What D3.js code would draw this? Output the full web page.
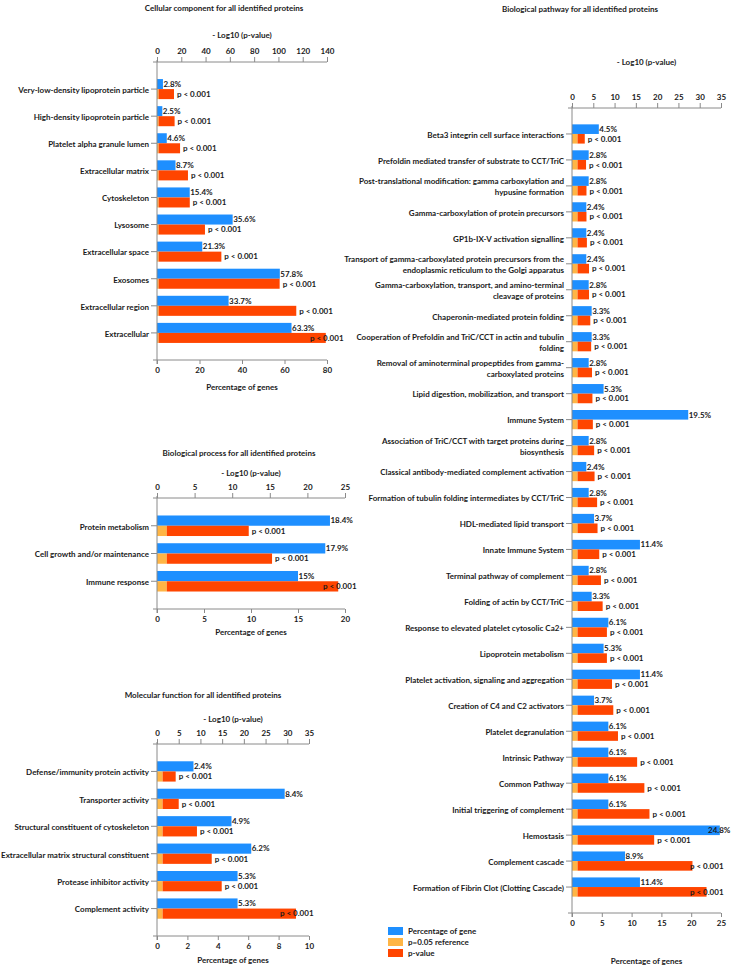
<!DOCTYPE html>
<html><head><meta charset="utf-8">
<script src="https://cdn.jsdelivr.net/npm/d3@7"></script>
<style>
body{margin:0;background:#fff;}
svg text{font-family:Lato,"Open Sans",sans-serif;font-weight:700;fill:#1a1a1a;}
</style></head><body>
<svg id="c" width="731" height="969"></svg>
<script>
// ---------- DATA ----------
const pRefLog = 1.3; // -log10(0.05)

const ccCategories = ["Very-low-density lipoprotein particle","High-density lipoprotein particle","Platelet alpha granule lumen","Extracellular matrix","Cytoskeleton","Lysosome","Extracellular space","Exosomes","Extracellular region","Extracellular"];
const ccPercent = [2.8,2.5,4.6,8.7,15.4,35.6,21.3,57.8,33.7,63.3];
const ccLogP = [14,14.5,19,25.5,27,39.5,53,101,114.7,139];
const ccTopTicks = [0,20,40,60,80,100,120,140];
const ccBottomTicks = [0,20,40,60,80];

const bpCategories = ["Protein metabolism","Cell growth and/or maintenance","Immune response"];
const bpPercent = [18.4,17.9,15];
const bpLogP = [12.2,15.3,24.1];
const bpTopTicks = [0,5,10,15,20,25];
const bpBottomTicks = [0,5,10,15,20];

const mfCategories = ["Defense/immunity protein activity","Transporter activity","Structural constituent of cytoskeleton","Extracellular matrix structural constituent","Protease inhibitor activity","Complement activity"];
const mfPercent = [2.4,8.4,4.9,6.2,5.3,5.3];
const mfLogP = [4.3,5.0,9.2,12.6,14.9,32.0];
const mfTopTicks = [0,5,10,15,20,25,30,35];
const mfBottomTicks = [0,2,4,6,8,10];

const pathCategories = [
"Beta3 integrin cell surface interactions",
"Prefoldin mediated transfer of substrate to CCT/TriC",
"Post-translational modification: gamma carboxylation and\nhypusine formation",
"Gamma-carboxylation of protein precursors",
"GP1b-IX-V activation signalling",
"Transport of gamma-carboxylated protein precursors from the\nendoplasmic reticulum to the Golgi apparatus",
"Gamma-carboxylation, transport, and amino-terminal\ncleavage of proteins",
"Chaperonin-mediated protein folding",
"Cooperation of Prefoldin and TriC/CCT in actin and tubulin\nfolding",
"Removal of aminoterminal propeptides from gamma-\ncarboxylated proteins",
"Lipid digestion, mobilization, and transport",
"Immune System",
"Association of TriC/CCT with target proteins during\nbiosynthesis",
"Classical antibody-mediated complement activation",
"Formation of tubulin folding intermediates by CCT/TriC",
"HDL-mediated lipid transport",
"Innate Immune System",
"Terminal pathway of complement",
"Folding of actin by CCT/TriC",
"Response to elevated platelet cytosolic Ca2+",
"Lipoprotein metabolism",
"Platelet activation, signaling and aggregation",
"Creation of C4 and C2 activators",
"Platelet degranulation",
"Intrinsic Pathway",
"Common Pathway",
"Initial triggering of complement",
"Hemostasis",
"Complement cascade",
"Formation of Fibrin Clot (Clotting Cascade)"];
const pathPercent = [4.5,2.8,2.8,2.4,2.4,2.4,2.8,3.3,3.3,2.8,5.3,19.5,2.8,2.4,2.8,3.7,11.4,2.8,3.3,6.1,5.3,11.4,3.7,6.1,6.1,6.1,6.1,24.8,8.9,11.4];
const pathLogP = [3.0,3.3,3.4,3.4,3.5,4.0,4.0,4.3,4.5,4.7,4.8,4.9,5.2,5.3,5.9,6.0,6.4,6.8,7.2,8.2,8.2,9.4,9.7,10.8,15.3,17.0,18.2,19.3,28.3,31.6];
const pathTopTicks = [0,5,10,15,20,25,30,35];
const pathBottomTicks = [0,5,10,15,20,25];

const legendLabels = ["Percentage of gene","p=0.05 reference","p-value"];
const pLabel = "p < 0.001";
const topAxisTitle = "- Log10 (p-value)";
const bottomAxisTitle = "Percentage of genes";

// ---------- STYLE ----------
const BLUE = "#1e8fff", ORANGE = "#ffb545", RED = "#ff4500", AXIS = "#8a8a8a";
const FS = 8;
const svg = d3.select("#c");

function panel(o) {
  const g = svg.append("g");
  const band = d3.scaleBand().domain(o.categories).range([o.top, o.bottom]).paddingOuter(0.5).paddingInner(0);
  const xTop = d3.scaleLinear().domain([0, d3.max(o.topTicks)]).range([o.x0, o.x1]);
  const xBot = d3.scaleLinear().domain([0, d3.max(o.bottomTicks)]).range([o.x0, o.x1]);
  const h = band.step() * 0.37;
  const data = o.categories.map((c, i) => ({c, pct: o.percent[i], lp: o.logp[i]}));

  // titles
  g.append("text").attr("x", o.titleX).attr("y", o.titleY).attr("text-anchor", "middle").attr("font-size", FS).attr("dy", "0.35em").text(o.title);
  g.append("text").attr("x", (o.x0 + o.x1) / 2).attr("y", o.topTitleY).attr("text-anchor", "middle").attr("font-size", FS).attr("dy", "0.35em").text(topAxisTitle);
  g.append("text").attr("x", (o.x0 + o.x1) / 2).attr("y", o.botTitleY).attr("text-anchor", "middle").attr("font-size", FS).attr("dy", "0.35em").text(bottomAxisTitle);

  // bars
  const bars = g.append("g");
  bars.selectAll(".b").data(data).join("rect")
    .attr("x", o.x0).attr("y", d => band(d.c) + band.bandwidth() / 2 - h)
    .attr("width", d => xBot(d.pct) - o.x0).attr("height", h).attr("fill", BLUE);
  bars.selectAll(".o").data(data).join("rect").attr("class", "o")
    .attr("x", o.x0).attr("y", d => band(d.c) + band.bandwidth() / 2)
    .attr("width", xTop(pRefLog) - o.x0).attr("height", h).attr("fill", ORANGE);
  bars.selectAll(".r").data(data).join("rect").attr("class", "r")
    .attr("x", xTop(pRefLog)).attr("y", d => band(d.c) + band.bandwidth() / 2)
    .attr("width", d => xTop(d.lp) - xTop(pRefLog)).attr("height", h).attr("fill", RED);

  // data labels
  g.selectAll(".lb").data(data).join("text")
    .attr("x", d => Math.min(xBot(d.pct) + 0.5, o.blueClamp))
    .attr("y", d => band(d.c) + band.bandwidth() / 2 - h / 2)
    .attr("dy", "0.35em").attr("font-size", FS).text(d => d.pct + "%");
  g.selectAll(".lr").data(data).join("text")
    .attr("x", d => Math.min(xTop(d.lp) + 3, o.redClamp))
    .attr("y", d => band(d.c) + band.bandwidth() / 2 + h / 2)
    .attr("dy", "0.35em").attr("font-size", FS).text(pLabel);

  // axes
  const ax = g.append("g").attr("stroke", AXIS).attr("stroke-width", 1);
  ax.append("line").attr("x1", o.x0 - 4).attr("x2", o.x1).attr("y1", o.top).attr("y2", o.top);
  ax.append("line").attr("x1", o.x0 - 4).attr("x2", o.x1).attr("y1", o.bottom).attr("y2", o.bottom);
  ax.append("line").attr("x1", o.x0).attr("x2", o.x0).attr("y1", o.top - 2).attr("y2", o.bottom + 4);

  const top = g.append("g").attr("transform", `translate(0,${o.top})`)
    .call(d3.axisTop(xTop).tickValues(o.topTicks).tickSize(5).tickSizeOuter(0).tickPadding(3));
  const bot = g.append("g").attr("transform", `translate(0,${o.bottom})`)
    .call(d3.axisBottom(xBot).tickValues(o.bottomTicks).tickSize(4).tickSizeOuter(0).tickPadding(3));
  const left = g.append("g").attr("transform", `translate(${o.x0},0)`)
    .call(d3.axisLeft(band).tickSize(6).tickSizeOuter(0).tickFormat(""));
  [top, bot, left].forEach(a => {
    a.select(".domain").remove();
    a.selectAll("line").attr("stroke", AXIS);
    a.selectAll("text").attr("font-size", FS).attr("font-family", null).attr("fill", "#1a1a1a");
  });

  // category labels (with explicit wraps)
  const lab = g.selectAll(".cl").data(data).join("text")
    .attr("text-anchor", "end").attr("font-size", FS)
    .attr("y", d => band(d.c) + band.bandwidth() / 2 + 1);
  lab.each(function(d) {
    const lines = d.c.split("\n");
    const t = d3.select(this);
    lines.forEach((ln, k) => {
      t.append("tspan").attr("x", o.x0 - 8)
        .attr("dy", k === 0 ? ((-(lines.length - 1) * 5.5) / FS + 0.35) + "em" : (11 / FS) + "em")
        .text(ln);
    });
  });
}

panel({categories: ccCategories, percent: ccPercent, logp: ccLogP, topTicks: ccTopTicks, bottomTicks: ccBottomTicks,
  x0: 157, x1: 327, top: 62, bottom: 360, title: "Cellular component for all identified proteins",
  titleX: 224, titleY: 8, topTitleY: 35, botTitleY: 387, blueClamp: 330, redClamp: 310});

panel({categories: bpCategories, percent: bpPercent, logp: bpLogP, topTicks: bpTopTicks, bottomTicks: bpBottomTicks,
  x0: 157, x1: 345, top: 498, bottom: 609, title: "Biological process for all identified proteins",
  titleX: 239, titleY: 453, topTitleY: 473, botTitleY: 632, blueClamp: 345, redClamp: 323});

panel({categories: mfCategories, percent: mfPercent, logp: mfLogP, topTicks: mfTopTicks, bottomTicks: mfBottomTicks,
  x0: 157, x1: 309, top: 744, bottom: 936, title: "Molecular function for all identified proteins",
  titleX: 203, titleY: 695, topTitleY: 719, botTitleY: 960, blueClamp: 310, redClamp: 280});

panel({categories: pathCategories, percent: pathPercent, logp: pathLogP, topTicks: pathTopTicks, bottomTicks: pathBottomTicks,
  x0: 572, x1: 721, top: 108, bottom: 913, title: "Biological pathway for all identified proteins",
  titleX: 580, titleY: 9, topTitleY: 62, botTitleY: 961, blueClamp: 708, redClamp: 690});

// legend
const legColors = [BLUE, ORANGE, RED];
const leg = svg.append("g");
legendLabels.forEach((l, i) => {
  leg.append("rect").attr("x", 388).attr("y", 927 + i * 11).attr("width", 15).attr("height", 8).attr("fill", legColors[i]);
  leg.append("text").attr("x", 408).attr("y", 931 + i * 11).attr("dy", "0.35em").attr("font-size", FS).text(l);
});
</script>
</body></html>
